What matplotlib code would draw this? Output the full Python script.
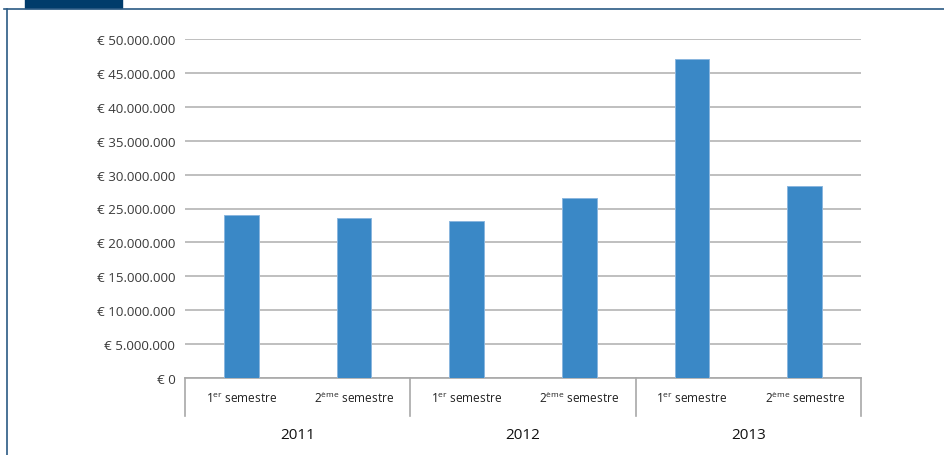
import matplotlib.pyplot as plt
from matplotlib.lines import Line2D
from matplotlib.patches import Rectangle
from matplotlib.ticker import FuncFormatter

plt.rcParams['font.family'] = ['Open Sans', 'DejaVu Sans']
plt.rcParams['mathtext.fontset'] = 'custom'
plt.rcParams['mathtext.rm'] = 'Open Sans'

years = ['2011', '2012', '2013']
semesters = ['1$^{\\mathrm{er}}$ semestre', '2$^{\\mathrm{ème}}$ semestre']
values = [24.0e6, 23.6e6, 23.1e6, 26.5e6, 47.0e6, 28.3e6]

fig = plt.figure(figsize=(9.44, 4.56), dpi=100)
ax = fig.add_axes([185 / 944, 77 / 456, 676 / 944, 339 / 456])

x = range(len(values))
ax.bar(x, values, width=0.31, color='#3a88c6', edgecolor='#8ab6de', linewidth=0.7, zorder=3)

ax.set_xlim(-0.5, len(values) - 0.5)
ax.set_ylim(0, 50e6)
ax.set_yticks([i * 5e6 for i in range(11)])
ax.yaxis.set_major_formatter(FuncFormatter(lambda v, p: '€ ' + f'{int(v):,}'.replace(',', '.')))
ax.grid(axis='y', color='#b4b4b4', linewidth=1.2, zorder=0)
ax.tick_params(axis='y', length=0, pad=7, labelsize=9.6, labelcolor='#3a3a3a')

ax.set_xticks(list(x))
ax.set_xticklabels(semesters * len(years))
ax.tick_params(axis='x', length=0, pad=17.5, labelsize=8.6, labelcolor='#222222')
plt.setp(ax.get_xticklabels(), va='baseline')

for s in ['top', 'right', 'left']:
    ax.spines[s].set_visible(False)
ax.spines['bottom'].set_color('#a8a8a8')
ax.spines['bottom'].set_linewidth(1.2)

trans = ax.get_xaxis_transform()
for i in range(len(years) + 1):
    ax.plot([2 * i - 0.5, 2 * i - 0.5], [0, -0.112], transform=trans,
            color='#a8a8a8', linewidth=1.2, clip_on=False)
for i, y in enumerate(years):
    ax.text(2 * i + 0.5, -0.168, y, transform=trans, ha='center', va='center',
            fontsize=11, color='#111111')

# page frame
fig.add_artist(Rectangle((25 / 944, 1 - 9 / 456), 97 / 944, 9 / 456,
                         transform=fig.transFigure, color='#003c6b'))
fig.add_artist(Line2D([4 / 944, 1], [1 - 9.5 / 456, 1 - 9.5 / 456],
                      transform=fig.transFigure, color='#2b5a84', linewidth=1.2))
fig.add_artist(Line2D([7 / 944, 7 / 944], [0, 1 - 9.5 / 456],
                      transform=fig.transFigure, color='#2b5a84', linewidth=1.2))

fig.savefig('out.png', dpi=100)
